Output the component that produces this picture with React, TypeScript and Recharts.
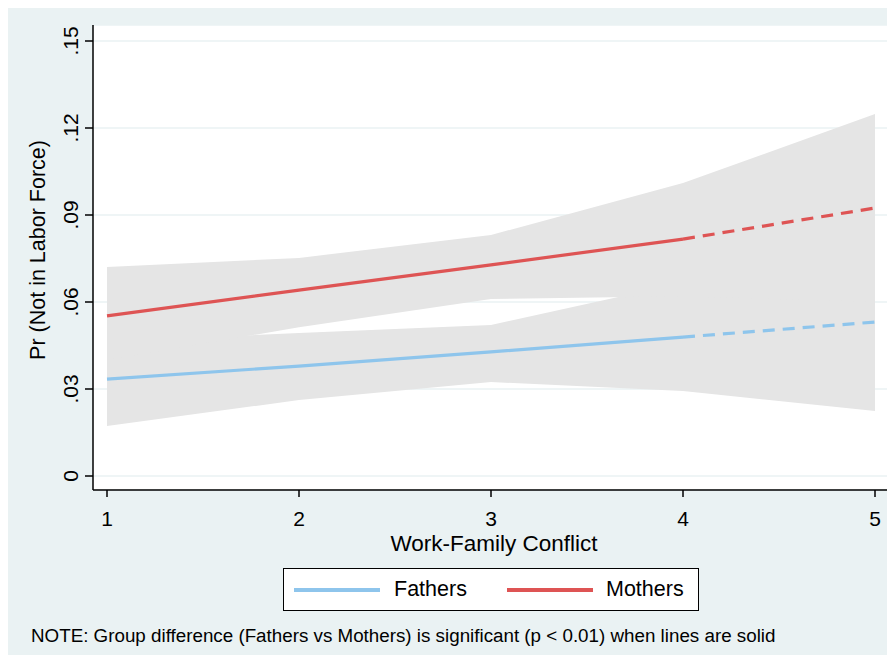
import React from "react";
import {
  ComposedChart,
  Area,
  Line,
  XAxis,
  YAxis,
  CartesianGrid,
} from "recharts";

const conflict = [1, 2, 3, 4, 5];
const fathersPr = [0.0334, 0.0379, 0.0428, 0.0479, 0.0531];
const fathersLo = [0.0172, 0.0262, 0.0324, 0.0293, 0.0224];
const fathersHi = [0.0463, 0.0493, 0.0521, 0.0666, 0.084];
const mothersPr = [0.0552, 0.0641, 0.0728, 0.0817, 0.0924];
const mothersLo = [0.04, 0.0513, 0.061, 0.062, 0.06];
const mothersHi = [0.0721, 0.0752, 0.0831, 0.101, 0.1248];
// group difference significant at p < 0.01 (solid) or not (dashed)
const significant = [true, true, true, true, false];

const yTicks = [0, 0.03, 0.06, 0.09, 0.12, 0.15];
const xTicks = [1, 2, 3, 4, 5];

const FATHERS = "#8EC5EC";
const MOTHERS = "#DE5454";
const BAND = "#E5E5E5";
const BG = "#EAF2F3";
const FONT = '"Liberation Sans", Arial, sans-serif';

const inDashed = (i: number) =>
  !significant[i] || (i + 1 < significant.length && !significant[i + 1]);

const data = conflict.map((x, i) => ({
  x,
  fRange: [fathersLo[i], fathersHi[i]],
  mRange: [mothersLo[i], mothersHi[i]],
  fSolid: significant[i] ? fathersPr[i] : null,
  mSolid: significant[i] ? mothersPr[i] : null,
  fDash: inDashed(i) ? fathersPr[i] : null,
  mDash: inDashed(i) ? mothersPr[i] : null,
}));

const fmtY = (v: number) => (v === 0 ? "0" : v.toFixed(2).replace(/^0/, ""));

const YTick = ({ y, payload }: any) => {
  const tx = 70;
  return (
    <text
      x={tx}
      y={y}
      transform={`rotate(-90 ${tx} ${y})`}
      textAnchor="middle"
      fontSize={21}
      fontFamily={FONT}
      fill="#000"
    >
      {fmtY(payload.value)}
    </text>
  );
};

const XTick = ({ x, payload }: any) => (
  <text x={x} y={518} textAnchor="middle" fontSize={21} fontFamily={FONT} fill="#000">
    {payload.value}
  </text>
);

export default function App() {
  return (
    <div
      style={{
        position: "relative",
        width: 887,
        height: 647,
        background: BG,
        fontFamily: FONT,
      }}
    >
      <style>{"html,body{overflow:hidden}"}</style>
      <ComposedChart
        width={887}
        height={647}
        data={data}
        margin={{ top: 17, right: 7, bottom: 135, left: 55 }}
      >
        <CartesianGrid
          vertical={false}
          fill="#fff"
          stroke={BG}
          strokeWidth={1.5}
        />
        <XAxis
          dataKey="x"
          type="number"
          domain={[1, 5]}
          ticks={xTicks}
          padding={{ left: 14, right: 13 }}
          height={30}
          tick={<XTick />}
          tickSize={7}
          axisLine={{ stroke: "#000", strokeWidth: 1.5 }}
          tickLine={{ stroke: "#000", strokeWidth: 1.5 }}
          label={{
            content: () => (
              <text
                x={486}
                y={543}
                textAnchor="middle"
                fontSize={22.5}
                fontFamily={FONT}
                fill="#000"
              >
                Work-Family Conflict
              </text>
            ),
          }}
        />
        <YAxis
          type="number"
          domain={[0, 0.15]}
          ticks={yTicks}
          padding={{ top: 16, bottom: 14 }}
          width={30}
          tick={<YTick />}
          tickSize={8}
          axisLine={{ stroke: "#000", strokeWidth: 1.5 }}
          tickLine={{ stroke: "#000", strokeWidth: 1.5 }}
          label={{
            content: () => (
              <text
                x={37}
                y={242}
                transform="rotate(-90 37 242)"
                textAnchor="middle"
                fontSize={21.5}
                fontFamily={FONT}
                fill="#000"
              >
                Pr (Not in Labor Force)
              </text>
            ),
          }}
        />
        <Area
          dataKey="fRange"
          type="linear"
          stroke="none"
          fill={BAND}
          fillOpacity={1}
          isAnimationActive={false}
        />
        <Area
          dataKey="mRange"
          type="linear"
          stroke="none"
          fill={BAND}
          fillOpacity={1}
          isAnimationActive={false}
        />
        <Line dataKey="fSolid" type="linear" stroke={FATHERS} strokeWidth={3.2} dot={false} isAnimationActive={false} />
        <Line dataKey="fDash" type="linear" stroke={FATHERS} strokeWidth={3.2} strokeDasharray="12 8" dot={false} isAnimationActive={false} />
        <Line dataKey="mSolid" type="linear" stroke={MOTHERS} strokeWidth={3.2} dot={false} isAnimationActive={false} />
        <Line dataKey="mDash" type="linear" stroke={MOTHERS} strokeWidth={3.2} strokeDasharray="12 8" dot={false} isAnimationActive={false} />
      </ComposedChart>

      <div
        style={{
          position: "absolute",
          left: 275,
          top: 560,
          width: 416,
          height: 43,
          boxSizing: "border-box",
          border: "1px solid #000",
          background: "#fff",
          fontSize: 21.5,
        }}
      >
        <div style={{ position: "absolute", left: 10, top: 19, width: 86, height: 3.5, background: FATHERS }} />
        <div style={{ position: "absolute", left: 110, top: 8, lineHeight: "24px" }}>Fathers</div>
        <div style={{ position: "absolute", left: 223, top: 19, width: 86, height: 3.5, background: MOTHERS }} />
        <div style={{ position: "absolute", left: 322, top: 8, lineHeight: "24px" }}>Mothers</div>
      </div>

      <div
        style={{
          position: "absolute",
          left: 23,
          top: 617,
          fontSize: 18.8,
          lineHeight: "22px",
          whiteSpace: "nowrap",
        }}
      >
        NOTE: Group difference (Fathers vs Mothers) is significant (p &lt; 0.01) when lines are solid
      </div>
    </div>
  );
}
